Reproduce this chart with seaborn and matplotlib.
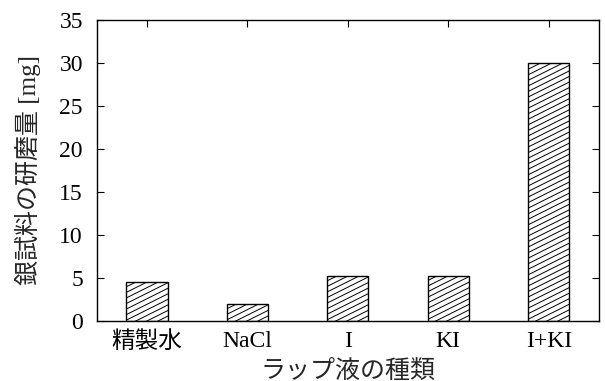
import numpy as np
import pandas as pd
import matplotlib
matplotlib.use("Agg")
import matplotlib.pyplot as plt
import matplotlib.hatch as mhatch
from matplotlib.path import Path
import seaborn as sns

# data
categories = ['精製水', 'NaCl', 'I', 'KI', 'I+KI']
amounts = [4.5, 2.0, 5.2, 5.2, 30.0]  # mg
y_ticks = [0, 5, 10, 15, 20, 25, 30, 35]


# gnuplot-like shallow "/" hatch (slope 1/2 instead of 45 deg)
class ShallowHatch(mhatch.HatchPatternBase):
    def __init__(self, hatch, density):
        self.num_lines = int(hatch.count('/') * density)
        if self.num_lines % 2:
            self.num_lines += 1
        self.num_vertices = 3 * self.num_lines

    def set_vertices_and_codes(self, vertices, codes):
        n = self.num_lines
        y0 = np.arange(-n // 2, n) / n
        vertices[0::2, 0] = 0.0
        vertices[0::2, 1] = y0
        vertices[1::2, 0] = 1.0
        vertices[1::2, 1] = y0 + 0.5
        codes[0::2] = Path.MOVETO
        codes[1::2] = Path.LINETO


mhatch._hatch_types = [ShallowHatch if t is mhatch.NorthEastHatch else t
                       for t in mhatch._hatch_types]


def generate_plot():
    df = pd.DataFrame({'liquid': categories, 'amount': amounts})

    sns.set_style("ticks")
    plt.rcParams['font.family'] = ['Liberation Serif', 'Noto Sans CJK JP']
    plt.rcParams['hatch.linewidth'] = 0.7

    fig = plt.figure(figsize=(6.05, 3.81), dpi=100)
    ax = fig.add_axes([0.160, 0.1575, 0.830, 0.790])

    sns.barplot(data=df, x='liquid', y='amount', color='white',
                edgecolor='black', linewidth=1.0, width=0.41, ax=ax)
    for bar in ax.patches:
        bar.set_facecolor('white')
        bar.set_hatch('///')

    ax.set_xlim(-0.5, len(categories) - 0.5)
    ax.set_ylim(0, 35)
    ax.set_yticks(y_ticks)

    for side in ['top', 'right', 'left', 'bottom']:
        ax.spines[side].set_visible(True)
        ax.spines[side].set_color('black')
        ax.spines[side].set_linewidth(1.0)

    ax.tick_params(axis='both', direction='in', length=5, width=0.8,
                   top=True, right=True, labelsize=17, colors='black')
    ax.tick_params(axis='x', pad=7)
    ax.tick_params(axis='y', pad=10)

    ax.set_xlabel('ラップ液の種類', fontsize=18, labelpad=5)
    ax.set_ylabel('銀試料の研磨量 [mg]', fontsize=18, labelpad=13)

    fig.savefig('out.png', dpi=100)
    plt.close(fig)


if __name__ == "__main__":
    generate_plot()
